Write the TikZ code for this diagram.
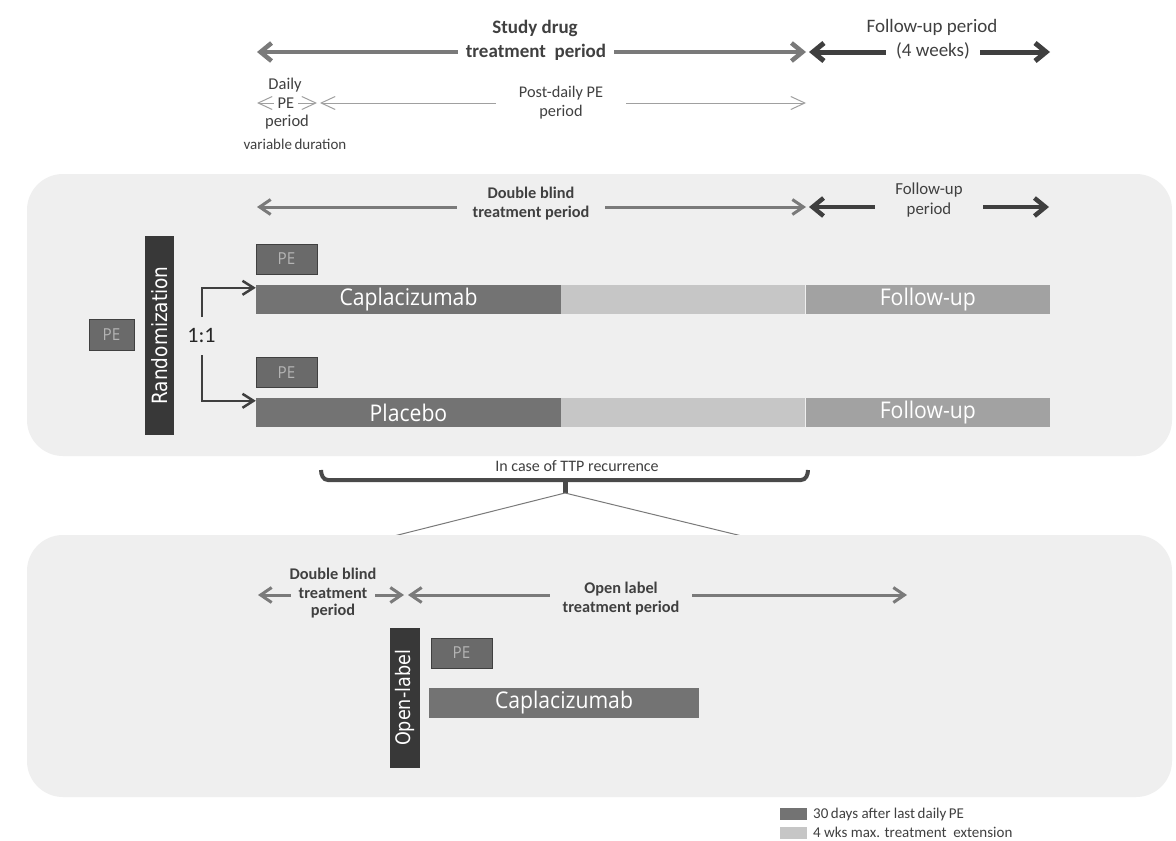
\documentclass[tikz,border=0pt]{standalone}
\usepackage{fontspec}
\setmainfont{Carlito}
\newfontfamily\barfont[FakeStretch=0.92]{Open Sans}
\newfontfamily\vfont[FakeStretch=0.88]{DejaVu Sans}
\usetikzlibrary{arrows.meta}

\definecolor{panelbg}{HTML}{EFEFEF}
\definecolor{txt}{HTML}{404040}
\definecolor{midarrow}{HTML}{7A7A7A}
\definecolor{darkarrow}{HTML}{3F3F3F}
\definecolor{thinarrow}{HTML}{A0A0A0}
\definecolor{treatdark}{HTML}{737373}
\definecolor{treatlight}{HTML}{C6C6C6}
\definecolor{followbar}{HTML}{A2A2A2}
\definecolor{pefill}{HTML}{6A6A6A}
\definecolor{peborder}{HTML}{404040}
\definecolor{petext}{HTML}{B4B4B4}
\definecolor{vbar}{HTML}{383838}

\newcommand\fsz[1]{\fontsize{#1pt}{\dimexpr #1pt*12/10\relax}\selectfont}

\tikzset{
  fs/.style={font=\fsz{#1}},
  fsb/.style={font=\bfseries\fsz{#1}},
  lbl/.style={text=txt, align=center, inner sep=1pt},
  bigtip/.style={{Straight Barb[length=11pt,width=18pt]}-{Straight Barb[length=11pt,width=18pt]}},
  midtip/.style={{Straight Barb[length=11pt,width=15pt]}-{Straight Barb[length=11pt,width=15pt]}},
  thintip/.style={{Straight Barb[length=14pt,width=13pt]}-{Straight Barb[length=14pt,width=13pt]}},
  panel/.style={fill=panelbg, draw=none, rounded corners=36pt},
  pebox/.style={fill=pefill, draw=peborder, line width=1pt, minimum width=61pt, minimum height=30pt,
    text=petext, inner sep=0pt, font=\barfont\fsz{16.5}},
  vlabel/.style={fill=vbar, text=white, inner sep=0pt, font=\vfont\fsz{21}, rotate=90},
  barseg/.style={draw=none, inner sep=0pt, minimum height=29pt, text=white,
    font=\barfont\fsz{23}},
  split/.style={draw=darkarrow, line width=2.5pt, -{Straight Barb[length=11pt,width=14pt]}}
}

\begin{document}
\begin{tikzpicture}[x=1pt,y=-1pt]
\useasboundingbox (0,0) rectangle (1176,841);
\fill[white] (0,0) rectangle (1176,841);

% ---- overall study timeline ----
\coordinate (sdL) at (257,52);
\coordinate (sdR) at (806,52);
\coordinate (fuL) at (809,52);
\coordinate (fuR) at (1050,52);
\draw[bigtip, draw=midarrow, line width=4.5pt] (sdL) -- (sdR);
\draw[bigtip, draw=darkarrow, line width=5pt] (fuL) -- (fuR);
\node[lbl, fsb=19] (sd1) at (535,28) {Study drug};
\node[lbl, fsb=19, fill=white, inner xsep=8pt] (sd2) at (536,52) {treatment\ \ period};
\node[lbl, fs=19] (fu1) at (932,27) {Follow-up period};
\node[lbl, fs=19, fill=white, inner xsep=10pt] (fu2) at (933,51) {(4 weeks)};

% daily / post-daily PE
\coordinate (dL) at (257,103);
\coordinate (dR) at (317,103);
\coordinate (pL) at (320,103);
\coordinate (pR) at (806,103);
\draw[thintip, draw=thinarrow, line width=1pt] (dL) -- (dR);
\draw[thintip, draw=thinarrow, line width=1pt] (pL) -- (pR);
\node[lbl, fs=16.5] (d1) at (285,85) {Daily};
\node[lbl, fs=16.5, fill=white, inner xsep=4pt] (d2) at (286,103) {PE};
\node[lbl, fs=16.5] (d3) at (287,122) {period};
\node[lbl, fs=15] (d4) at (295,144) {variable\,duration};
\node[lbl, fs=16.3, fill=white, inner xsep=23pt] (pd) at (561,102.5) {Post-daily PE\\period};

% ---- double blind phase ----
\fill[panel] (27,174) rectangle (1172,456);
\coordinate (dbL) at (257,207);
\coordinate (dbR) at (806,207);
\coordinate (f2L) at (809,207);
\coordinate (f2R) at (1049,207);
\draw[midtip, draw=midarrow, line width=3pt] (dbL) -- (dbR);
\draw[bigtip, draw=darkarrow, line width=4.5pt] (f2L) -- (f2R);
\node[lbl, fsb=16.3, fill=panelbg, inner xsep=16pt] (db) at (531,203.5) {Double blind\\treatment period};
\node[lbl, fs=16.8, fill=panelbg, inner xsep=20pt] (f2) at (929,200) {Follow-up\\period};

\node[pebox, minimum width=45pt, minimum height=31pt] (pe0) at (111.5,334.5) {PE};
\node[vlabel, minimum width=199pt, minimum height=29pt] (rand) at (159.5,335.5) {Randomization};
\node[text=black!85, inner sep=1pt, font=\fsz{22}] (ratio) at (201.5,336) {1:1};

\node[pebox] (pe1) at (286.5,259) {PE};
\node[pebox] (pe2) at (286.5,372.5) {PE};

% caplacizumab arm
\node[barseg, fill=treatdark, minimum width=305pt] (c1) at (408.5,299.5) {Caplacizumab};
\node[barseg, fill=treatlight, minimum width=244pt, anchor=west] (c2) at (c1.east) {};
\node[barseg, fill=followbar, minimum width=244pt, anchor=west] (c3) at (c2.east) {Follow-up};
% placebo arm
\node[barseg, fill=treatdark, minimum width=305pt] (p1) at (408.5,412.5) {Placebo};
\node[barseg, fill=treatlight, minimum width=244pt, anchor=west] (p2) at (p1.east) {};
\node[barseg, fill=followbar, minimum width=244pt, anchor=west] (p3) at (p2.east) {Follow-up};

\coordinate (upS) at (202,317);
\coordinate (dnS) at (202,355);
\draw[split] (upS) |- ([yshift=-3pt]c1.north west);
\draw[split] (dnS) |- ([yshift=-3pt]p1.north west);

% ---- recurrence bracket ----
\node[lbl, fs=16] (ttp) at (577,466) {In case of TTP recurrence};
\coordinate (brL) at (321,470);
\coordinate (brR) at (808,470);
\coordinate (brM) at (565,480);
\coordinate (brT) at (565,493);
\draw[draw=txt!95, line width=4pt]
  (brL) to[out=-90,in=180] (328,480) -- (801,480) to[out=0,in=-90] (brR);
\draw[draw=txt!95, line width=5pt] (brM) -- (brT);
\coordinate (zL) at (390,537);
\coordinate (zR) at (746,537);
\draw[draw=midarrow, line width=1pt] (brT) -- (zL);
\draw[draw=midarrow, line width=1pt] (brT) -- (zR);

% ---- open-label phase ----
\fill[panel] (27,535) rectangle (1172,797);
\coordinate (obL) at (258,595);
\coordinate (obR) at (404,595);
\coordinate (olL) at (408,595);
\coordinate (olR) at (907,595);
\draw[midtip, draw=midarrow, line width=3pt] (obL) -- (obR);
\draw[midtip, draw=midarrow, line width=3pt] (olL) -- (olR);
\node[lbl, fsb=16.3] (ob1) at (333,574) {Double blind};
\node[lbl, fsb=16.3, fill=panelbg, inner xsep=8pt] (ob2) at (333,593) {treatment};
\node[lbl, fsb=16.3] (ob3) at (333,611) {period};
\node[lbl, fsb=16.3, fill=panelbg, inner xsep=13pt] (ol) at (621,598.5) {Open label\\treatment period};

\node[vlabel, minimum width=140pt, minimum height=30pt, font=\vfont\fsz{20}] (open) at (405,698) {Open-label};
\node[pebox] (pe3) at (461.5,653) {PE};
\node[barseg, fill=treatdark, minimum width=270pt, minimum height=30pt] (c4) at (564,703) {Caplacizumab};

% ---- legend ----
\fill[treatdark] (780,808) rectangle (807,820);
\fill[treatlight] (780,827) rectangle (807,839);
\node[lbl, fs=15, anchor=west] (lg1) at (812,814.5) {30\,days after last\,daily\,PE};
\node[lbl, fs=15, anchor=west] (lg2) at (812,832) {4 wks max. treatment\ \ extension};
\end{tikzpicture}
\end{document}
